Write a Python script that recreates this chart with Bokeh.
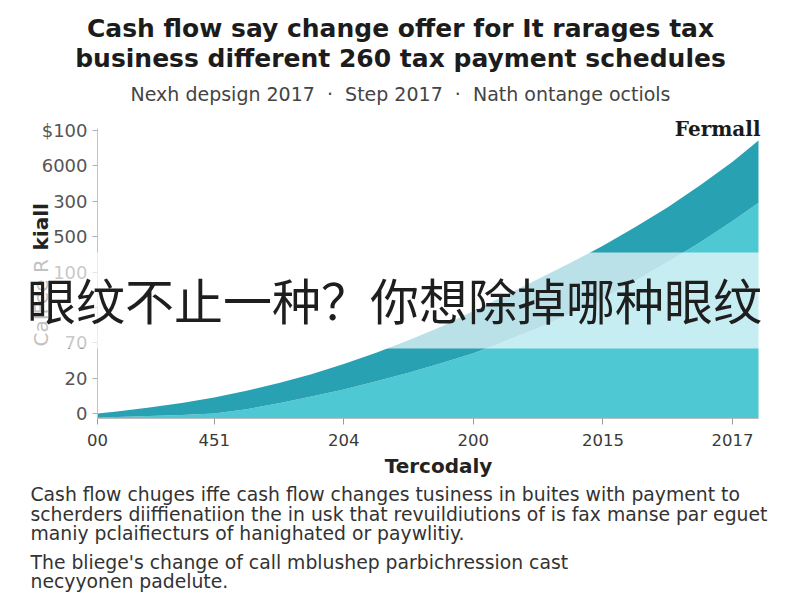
import math
from bokeh.plotting import figure
from bokeh.models import Range1d, FixedTicker, Label, BoxAnnotation, LinearAxis
from bokeh.embed import file_html
from bokeh.resources import INLINE

# ---------------- data ----------------
x_pos = [0.1, 0.25, 0.5, 0.75, 1.0, 1.25, 1.5, 1.75, 2.0, 2.25, 2.5, 2.75,
         3.0, 3.25, 3.5, 3.75, 4.0, 4.25, 4.5, 4.75, 5.0, 5.2]
upper_series = [0.00, 0.06, 0.17, 0.30, 0.45, 0.64, 0.86, 1.11, 1.40, 1.72, 2.07, 2.45,
                2.90, 3.35, 3.80, 4.26, 4.74, 5.27, 5.83, 6.45, 7.12, 7.72]
lower_series = [-0.12, -0.10, -0.07, -0.04, 0.00, 0.12, 0.29, 0.48, 0.68, 0.91, 1.15, 1.42,
                1.70, 2.05, 2.42, 2.82, 3.25, 3.75, 4.28, 4.84, 5.44, 5.96]
x_tick_pos = [0.1, 1, 2, 3, 4, 5]
x_tick_labels = ["00", "451", "204", "200", "2015", "2017"]
y_tick_pos = [0, 1, 2, 3, 4, 5, 6, 7, 8]
y_tick_labels = ["0", "20", "70", "", "100", "500", "300", "6000", "$100"]

NB = "\u00a0"
title_lines = ["Cash flow say change offer for It rarages tax",
               "business different 260 tax payment schedules"]
subtitle = f"Nexh depsign 2017{NB}{NB}\u00b7{NB}{NB}Step 2017{NB}{NB}\u00b7{NB}{NB}Nath ontange octiols"
series_label = "Fermall"
x_title = "Tercodaly"
y_title_light = "CaIFee R"
y_title_dark = "kiall"
overlay_text = "眼纹不止一种？你想除掉哪种眼纹"
notes = ["Cash flow chuges iffe cash flow changes tusiness in buites with payment to",
         "scherders diiffienatiion the in usk that revuildiutions of is fax manse par eguet",
         "maniy pclaifiecturs of hanighated or paywlitiy.",
         "The bliege's change of call mblushep parbichression cast",
         "necyyonen padelute."]

# ---------------- geometry ----------------
W, H = 800, 600
PX_LEFT, PX_RIGHT = 97, 758      # chart x extent in pixels
PY_ZERO, PY_TOP = 413, 130       # pixel rows of tick 0 and tick 8
XA, XB = 0.1, 5.2
ux = (PX_RIGHT - PX_LEFT) / (XB - XA)
uy = (PY_ZERO - PY_TOP) / 8.0
x_start = XA - PX_LEFT / ux
x_end = XA + (W - PX_LEFT) / ux
y_start = -(H - PY_ZERO) / uy
y_end = PY_ZERO / uy
BASE = -(418 - PY_ZERO) / uy


def at(px, py):
    return x_start + px / ux, y_end - py / uy


p = figure(width=W, height=H, output_backend="svg", toolbar_location=None,
           x_range=Range1d(x_start, x_end), y_range=Range1d(y_start, y_end),
           x_axis_type=None, y_axis_type=None,
           min_border_left=0, min_border_right=0, min_border_top=0, min_border_bottom=0)
p.outline_line_color = None
p.xgrid.visible = False
p.ygrid.visible = False
p.background_fill_color = "white"
p.border_fill_color = "white"

DARK = "#28a1b3"
LIGHT = "#4ec8d3"
base = [BASE] * len(x_pos)
p.varea(x=x_pos, y1=base, y2=lower_series, fill_color=LIGHT)
p.varea(x=x_pos, y1=lower_series, y2=upper_series, fill_color=DARK)

FONT = "DejaVu Sans"

# axes (drawn at fixed data locations)
xaxis = LinearAxis(fixed_location=BASE, bounds=(XA, XB))
xaxis.ticker = FixedTicker(ticks=x_tick_pos)
xaxis.major_label_overrides = {t: l for t, l in zip(x_tick_pos, x_tick_labels)}
xaxis.axis_line_color = "#bdbdbd"
xaxis.major_tick_line_color = "#9a9a9a"
xaxis.major_tick_out = 6
xaxis.major_tick_in = 0
xaxis.minor_tick_line_color = None
xaxis.major_label_text_font = FONT
xaxis.major_label_text_font_size = "16.5px"
xaxis.major_label_text_color = "#3a3a3a"
xaxis.major_label_standoff = 9
p.add_layout(xaxis, "below")

yaxis = LinearAxis(fixed_location=XA, bounds=(BASE, 8.05))
yaxis.ticker = FixedTicker(ticks=y_tick_pos)
yaxis.major_label_overrides = {t: l for t, l in zip(y_tick_pos, y_tick_labels)}
yaxis.axis_line_color = "#c4c4c4"
yaxis.major_tick_line_color = "#b0b0b0"
yaxis.major_tick_out = 5
yaxis.major_tick_in = 0
yaxis.minor_tick_line_color = None
yaxis.major_label_text_font = FONT
yaxis.major_label_text_font_size = "18px"
yaxis.major_label_text_color = "#555555"
yaxis.major_label_standoff = 5
p.add_layout(yaxis, "left")


def label(text, px, py, size, color="#222222", font=FONT, style="normal",
          align="left", angle=0.0, alpha=1.0):
    x, y = at(px, py)
    p.add_layout(Label(x=x, y=y, text=text, text_font=font, text_font_size=f"{size}px",
                       text_color=color, text_font_style=style, text_align=align,
                       text_baseline="middle", angle=angle, text_alpha=alpha))


label(title_lines[0], 400, 28, 25, "#1c1c1c", style="bold", align="center")
label(title_lines[1], 400, 58, 25, "#1c1c1c", style="bold", align="center")
label(subtitle, 400, 93, 19, "#444444", align="center")
label(series_label, 760, 128, 20, "#1a1a1a", font="DejaVu Serif", style="bold", align="right")
label(x_title, 438, 465, 20, "#222222", style="bold", align="center")

bx0, by0 = at(0, 348)
bx1, by1 = at(0, 252)
p.add_layout(BoxAnnotation(bottom=by0, top=by1, fill_color="white", fill_alpha=0.68,
                           line_color=None))
label(y_title_light, 40, 346, 20, "#c2c2c2", align="left", angle=math.pi / 2)
label(y_title_dark, 40, 250, 20, "#222222", style="bold", align="left", angle=math.pi / 2)
label(overlay_text, 394, 298, 49, "#1e1e1e", font="Noto Sans CJK SC", align="center")

for line, yy in zip(notes, [494, 514, 533, 562, 581]):
    label(line, 30, yy, 18.8, "#333333", align="left")

open("out.html", "w").write(file_html(p, INLINE))
